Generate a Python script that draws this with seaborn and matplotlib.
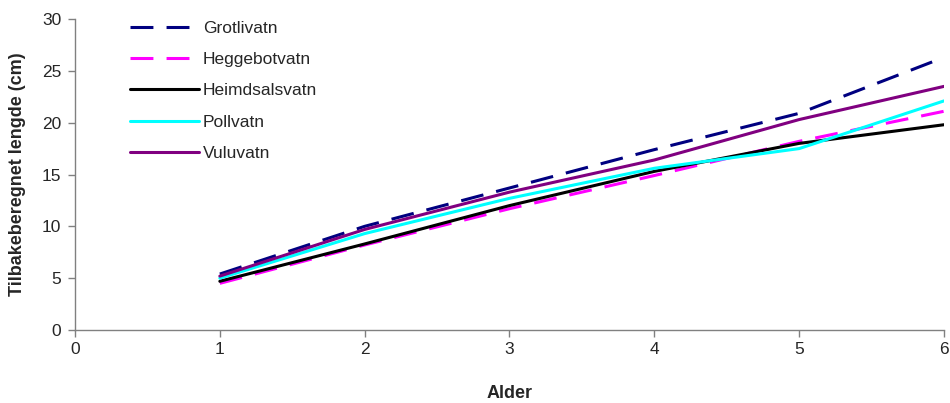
import numpy as np
import pandas as pd
import matplotlib
matplotlib.use("Agg")
import matplotlib.pyplot as plt
import seaborn as sns

alder = [1, 2, 3, 4, 5, 6]
series_names = ["Grotlivatn", "Heggebotvatn", "Heimdsalsvatn", "Pollvatn", "Vuluvatn"]
grotlivatn = [5.4, 10.0, 13.7, 17.4, 20.9, 26.3]
heggebotvatn = [4.5, 8.2, 11.7, 14.9, 18.2, 21.1]
heimdsalsvatn = [4.7, 8.3, 12.0, 15.3, 18.0, 19.8]
pollvatn = [5.0, 9.3, 12.7, 15.6, 17.5, 22.1]
vuluvatn = [5.2, 9.7, 13.3, 16.4, 20.3, 23.5]
x_ticks = [0, 1, 2, 3, 4, 5, 6]
y_ticks = [0, 5, 10, 15, 20, 25, 30]

values = [grotlivatn, heggebotvatn, heimdsalsvatn, pollvatn, vuluvatn]
df = pd.DataFrame({
    "Alder": alder * len(series_names),
    "Lengde": [v for s in values for v in s],
    "Vatn": [n for n in series_names for _ in alder],
})

sns.set_theme(style="white")
plt.rcParams['font.family'] = ['Liberation Sans', 'DejaVu Sans']

colors = {"Grotlivatn": "#000080", "Heggebotvatn": "#FF00FF",
          "Heimdsalsvatn": "#000000", "Pollvatn": "#00FFFF", "Vuluvatn": "#800080"}
dash = (7.5, 4.3)
dashes = {"Grotlivatn": dash, "Heggebotvatn": dash,
          "Heimdsalsvatn": "", "Pollvatn": "", "Vuluvatn": ""}

fig = plt.figure(figsize=(9.5, 4.03), dpi=100)
ax = fig.add_axes([75/950, 73/403, (944-75)/950, (330-19)/403])

sns.lineplot(data=df, x="Alder", y="Lengde", hue="Vatn", style="Vatn",
             palette=colors, dashes=dashes, linewidth=2.2, ax=ax,
             hue_order=series_names, style_order=series_names)

ax.set_xlim(0, 6)
ax.set_ylim(0, 30)
ax.set_xticks(x_ticks)
ax.set_yticks(y_ticks)
ax.tick_params(axis="both", labelsize=12.5, length=5, width=1, color="#808080",
               direction="out", bottom=True, left=True)
ax.tick_params(axis="x", pad=4)
ax.tick_params(axis="y", pad=5)
for side in ["top", "right"]:
    ax.spines[side].set_visible(False)
for side in ["left", "bottom"]:
    ax.spines[side].set_color("#808080")
    ax.spines[side].set_linewidth(1)

ax.set_xlabel("Alder", fontsize=13, fontweight="bold", labelpad=20)
ax.set_ylabel("Tilbakeberegnet lengde (cm)", fontsize=13, fontweight="bold", labelpad=11)

leg = ax.legend(loc="upper left", bbox_to_anchor=(0.045, 1.045), frameon=False,
                fontsize=12.5, handlelength=4.0, handletextpad=0.2, labelspacing=0.93)
for line in leg.get_lines():
    line.set_linewidth(2.2)

fig.savefig("out.png", dpi=100)
